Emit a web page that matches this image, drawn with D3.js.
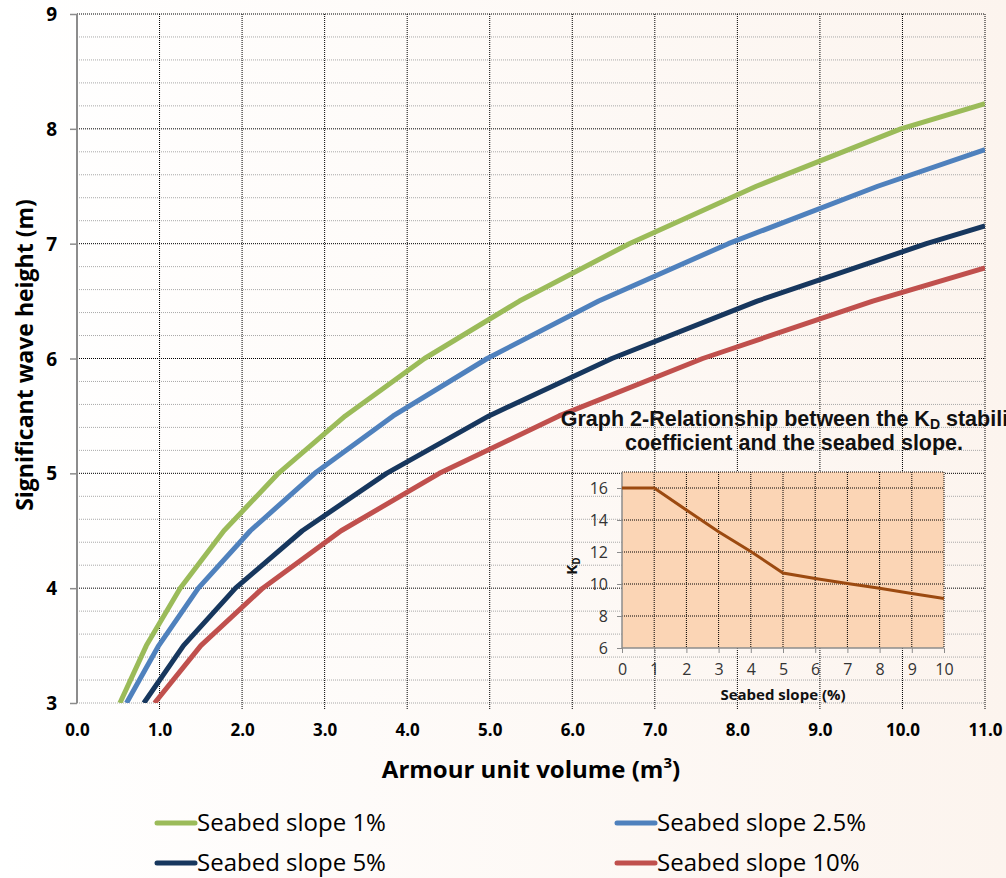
<!DOCTYPE html>
<html>
<head>
<meta charset="utf-8">
<script src="https://cdn.jsdelivr.net/npm/d3@7"></script>
<style>
  body { margin: 0; padding: 0; }
  svg { display: block; }
</style>
</head>
<body>
<div class="chart"></div>
<script>

// main chart: armour unit volume (m3) vs significant wave height (m)
let slope1 = [[0.52,3],[0.84,3.5],[1.25,4],[1.78,4.5],[2.44,5],[3.25,5.5],[4.21,6],[5.36,6.5],[6.69,7],[8.23,7.5],[9.98,8],[11,8.22]];
let slope25 = [[0.60,3],[0.99,3.5],[1.47,4],[2.10,4.5],[2.88,5],[3.83,5.5],[4.97,6],[6.32,6.5],[7.89,7],[9.70,7.5],[11,7.82]];
let slope5 = [[0.81,3],[1.29,3.5],[1.92,4],[2.73,4.5],[3.75,5],[4.99,5.5],[6.48,6],[8.24,6.5],[10.29,7],[11,7.155]];
let slope10 = [[0.94,3],[1.50,3.5],[2.25,4],[3.20,4.5],[4.39,5],[5.84,5.5],[7.58,6],[9.64,6.5],[11,6.79]];

let seriesNames = ["Seabed slope 1%","Seabed slope 2.5%","Seabed slope 5%","Seabed slope 10%"];
let seriesColors = ["#9bbb59","#4f81bd","#17375e","#c0504d"];

let xTicks = [0,1,2,3,4,5,6,7,8,9,10,11];
let yTicks = [3,4,5,6,7,8,9];

// inset: KD vs seabed slope (%)
let kdSlope = [0,1,2,3,4,5,6,7,8,9,10];
let kdValues = [16,16,14.62,13.27,12.03,10.69,10.34,10.03,9.74,9.41,9.10];
let kdTicks = [6,8,10,12,14,16];

let width = 1006, height = 878;
let font = "'Open Sans', Lato, sans-serif";

let svg = d3.select(".chart").append("svg")
  .attr("width", width).attr("height", height);

let defs = svg.append("defs");
let grad = defs.append("linearGradient").attr("id","bg").attr("x1","0").attr("x2","1").attr("y1","0").attr("y2","0");
grad.append("stop").attr("offset","0").attr("stop-color","#ffffff");
grad.append("stop").attr("offset","1").attr("stop-color","#fcf4ee");
svg.append("rect").attr("width",width).attr("height",height).attr("fill","url(#bg)");

let x = d3.scaleLinear().domain([0,11]).range([77,985]);
let y = d3.scaleLinear().domain([3,9]).range([703,14]);

// minor horizontal grid
let minor = d3.range(3,9.001,0.2).filter(v => Math.abs(v - Math.round(v)) > 0.01);
svg.append("g").selectAll("line").data(minor).enter().append("line")
  .attr("x1",x(0)).attr("x2",x(11))
  .attr("y1",d => y(d)).attr("y2",d => y(d))
  .attr("stroke","#a8a8a8").attr("stroke-width",1).attr("stroke-dasharray","1,1");

// major grid
svg.append("g").selectAll("line").data(yTicks.filter(d => d > 3)).enter().append("line")
  .attr("x1",x(0)).attr("x2",x(11))
  .attr("y1",d => y(d)).attr("y2",d => y(d))
  .attr("stroke","#000").attr("stroke-width",1).attr("stroke-dasharray","1,1");
svg.append("line").attr("x1",x(0)).attr("x2",x(11)).attr("y1",y(3)).attr("y2",y(3))
  .attr("stroke","#a8a8a8").attr("stroke-dasharray","1,1");
svg.append("g").selectAll("line").data(xTicks.filter(d => d > 0)).enter().append("line")
  .attr("x1",d => x(d)).attr("x2",d => x(d))
  .attr("y1",y(9)).attr("y2",y(3) + 6)
  .attr("stroke","#000").attr("stroke-width",1).attr("stroke-dasharray","1,1");

// y axis
let yAxis = svg.append("g").attr("transform","translate(" + x(0) + ",0)")
  .call(d3.axisLeft(y).tickValues(yTicks).tickSize(7).tickFormat(d3.format("d")));
yAxis.select(".domain").attr("stroke","#8c8c8c").attr("stroke-width",2).attr("d","M0," + y(9) + "V" + y(3));
yAxis.selectAll(".tick line").attr("stroke","#8c8c8c").attr("stroke-width",1.5);
yAxis.selectAll(".tick text").attr("x",-20).attr("dy","0.35em")
  .style("font-family",font).style("font-weight","bold").style("font-size","19px").attr("fill","#000");

// x tick labels
let xAxis = svg.append("g").attr("transform","translate(0," + y(3) + ")")
  .call(d3.axisBottom(x).tickValues(xTicks).tickSize(0).tickFormat(d3.format(".1f")));
xAxis.select(".domain").remove();
xAxis.selectAll(".tick text").attr("y",21).attr("dy","0.71em")
  .style("font-family",font).style("font-weight","bold").style("font-size","17px").attr("fill","#000");

// axis titles
svg.append("text").attr("x",531).attr("y",778).attr("text-anchor","middle")
  .style("font-family",font).style("font-weight","bold").style("font-size","24px")
  .html("Armour unit volume (m<tspan baseline-shift='super' font-size='15px'>3</tspan>)");
svg.append("text").attr("transform","translate(33,355) rotate(-90)").attr("text-anchor","middle")
  .style("font-family",font).style("font-weight","bold").style("font-size","23px")
  .text("Significant wave height (m)");

// series lines
let line = d3.line().x(d => x(d[0])).y(d => y(d[1]));
let allSeries = [slope1, slope25, slope5, slope10];
svg.append("defs").append("clipPath").attr("id","plotclip").append("rect")
  .attr("x",x(0)).attr("y",y(9)).attr("width",x(11)-x(0)).attr("height",y(3)-y(9));
svg.append("g").attr("clip-path","url(#plotclip)").selectAll("path").data(allSeries).enter().append("path")
  .attr("d",line).attr("fill","none")
  .attr("stroke",(d,i) => seriesColors[i]).attr("stroke-width",5).attr("stroke-linejoin","round");

// ---- inset graph ----
let ix = d3.scaleLinear().domain([0,10]).range([622,944]);
let iy = d3.scaleLinear().domain([6,17]).range([648,472]);

svg.append("rect").attr("x",ix(0)).attr("y",iy(17)).attr("width",ix(10)-ix(0)).attr("height",iy(6)-iy(17))
  .attr("fill","#fbd5b5");

svg.append("g").selectAll("line").data(kdSlope.filter(d => d > 0)).enter().append("line")
  .attr("x1",d => ix(d)).attr("x2",d => ix(d)).attr("y1",iy(17)).attr("y2",iy(6))
  .attr("stroke","#000").attr("stroke-dasharray","1,1");
svg.append("g").selectAll("line").data(kdTicks.filter(d => d > 6).concat([17])).enter().append("line")
  .attr("x1",ix(0)).attr("x2",ix(10)).attr("y1",d => iy(d)).attr("y2",d => iy(d))
  .attr("stroke","#000").attr("stroke-dasharray","1,1");

let iyAxis = svg.append("g").attr("transform","translate(" + ix(0) + ",0)")
  .call(d3.axisLeft(iy).tickValues(kdTicks).tickSize(5));
iyAxis.select(".domain").attr("stroke","#8c8c8c").attr("stroke-width",1.5).attr("d","M0," + iy(17) + "V" + iy(6));
iyAxis.selectAll(".tick line").attr("stroke","#8c8c8c");
iyAxis.selectAll(".tick text").attr("x",-14)
  .style("font-family",font).style("font-size","16px").attr("fill","#333");

let ixAxis = svg.append("g").attr("transform","translate(0," + iy(6) + ")")
  .call(d3.axisBottom(ix).tickValues(kdSlope).tickSize(5));
ixAxis.select(".domain").attr("stroke","#8c8c8c").attr("stroke-width",1.5).attr("d","M" + ix(0) + ",0H" + ix(10));
ixAxis.selectAll(".tick line").attr("stroke","#8c8c8c");
ixAxis.selectAll(".tick text").attr("y",16)
  .style("font-family",font).style("font-size","16px").attr("fill","#333");

svg.append("path").datum(kdSlope.map((s,i) => [s, kdValues[i]]))
  .attr("d", d3.line().x(d => ix(d[0])).y(d => iy(d[1])))
  .attr("fill","none").attr("stroke","#9c4a10").attr("stroke-width",3);

svg.append("text").attr("x",783).attr("y",700).attr("text-anchor","middle")
  .style("font-family",font).style("font-weight","bold").style("font-size","15px").attr("fill","#111")
  .text("Seabed slope (%)");
svg.append("text").attr("transform","translate(577,566) rotate(-90)").attr("text-anchor","middle")
  .style("font-family",font).style("font-weight","bold").style("font-size","15px").attr("fill","#111")
  .html("K<tspan dy='3' font-size='10px'>D</tspan>");

let title = svg.append("text").attr("text-anchor","middle")
  .style("font-family","'Liberation Sans', Arial, sans-serif").style("font-weight","bold").style("font-size","21.5px").attr("fill","#111");
title.append("tspan").attr("x",794).attr("y",426)
  .html("Graph 2-Relationship between the K<tspan dy='3' font-size='14px'>D</tspan><tspan dy='-3'> stability</tspan>");
title.append("tspan").attr("x",794).attr("y",450).text("coefficient and the seabed slope.");

// legend
let legendPos = [[157,823],[617,823],[157,863],[617,863]];
let legend = svg.append("g").selectAll("g").data(seriesNames).enter().append("g")
  .attr("transform",(d,i) => "translate(" + legendPos[i][0] + "," + legendPos[i][1] + ")");
legend.append("line").attr("x1",0).attr("x2",38)
  .attr("stroke",(d,i) => seriesColors[i]).attr("stroke-width",5).attr("stroke-linecap","round");
legend.append("text").attr("x",40).attr("y",8)
  .style("font-family",font).style("font-size","24px").attr("fill","#000")
  .text(d => d);

</script>
</body>
</html>
